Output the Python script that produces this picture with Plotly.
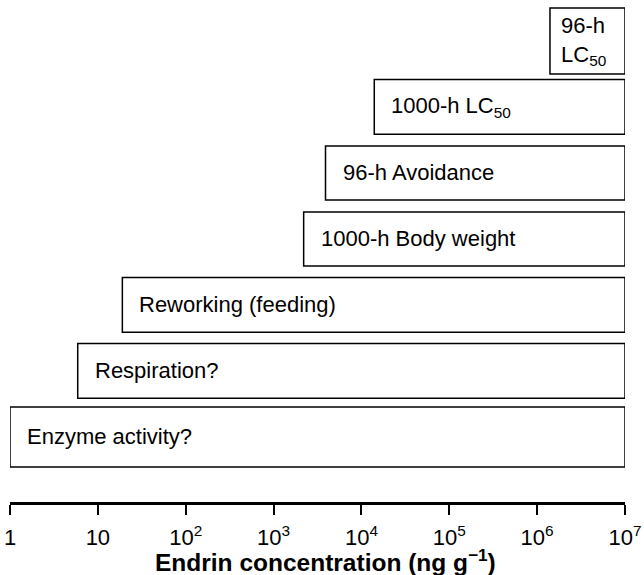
import plotly.graph_objects as go
import math

labels = ["Enzyme activity?", "Respiration?", "Reworking (feeding)", "1000-h Body weight",
          "96-h Avoidance", "1000-h LC<sub>50</sub>", "96-h<br>LC<sub>50</sub>"]
starts = [1, 5.9, 19, 2.2e3, 3.9e3, 1.4e4, 1.4e6]
ends = [1e7, 1e7, 1e7, 1e7, 1e7, 1e7, 1e7]
tick_vals = [1, 10, 1e2, 1e3, 1e4, 1e5, 1e6, 1e7]
tick_text = ["1", "10", "10<sup>2</sup>", "10<sup>3</sup>", "10<sup>4</sup>",
             "10<sup>5</sup>", "10<sup>6</sup>", "10<sup>7</sup>"]
x_title = "<b>Endrin concentration (ng g<sup>−1</sup>)</b>"

ypos = list(range(len(labels)))
widths = [0.91, 0.83, 0.83, 0.82, 0.82, 0.83, 1.0]
FONT = "Liberation Sans, Arial, Helvetica, sans-serif"

fig = go.Figure()
fig.add_trace(go.Bar(
    y=ypos,
    x=[e - s for s, e in zip(starts, ends)],
    base=starts,
    orientation="h",
    width=widths,
    marker=dict(color="white", line=dict(color="black", width=1.5)),
    hoverinfo="skip",
    showlegend=False,
))

for i, (lab, s) in enumerate(zip(labels, starts)):
    fig.add_annotation(
        x=math.log10(s), y=ypos[i], xref="x", yref="y",
        text=lab, showarrow=False, xanchor="left", yanchor="middle",
        align="left",
        xshift=15 if i < 6 else 9,
        font=dict(family=FONT, size=22, color="black"),
    )

# x-axis title placed as annotation for precise positioning
fig.add_annotation(
    x=0.5, y=0, xref="paper", yref="paper",
    text=x_title, showarrow=False, xanchor="center", yanchor="middle",
    xshift=8, yshift=-58,
    font=dict(family=FONT, size=24.5, color="black"),
)

fig.update_layout(
    width=644, height=575,
    margin=dict(l=10, r=19, t=0, b=73),
    paper_bgcolor="white", plot_bgcolor="white",
    font=dict(family=FONT, color="black"),
    xaxis=dict(
        type="log", range=[0, 7],
        tickvals=tick_vals, ticktext=tick_text,
        ticks="outside", ticklen=10, tickwidth=2, tickcolor="black",
        ticklabelstandoff=4,
        showline=True, linecolor="black", linewidth=2.5,
        showgrid=False, zeroline=False,
        tickfont=dict(family=FONT, size=22, color="black"),
        automargin=False,
    ),
    yaxis=dict(
        range=[-0.985, 6.62], showticklabels=False, showgrid=False,
        zeroline=False, showline=False, ticks="",
    ),
)

fig.write_html("out.html", config={"displayModeBar": False},
               post_script="document.body.style.margin='0px';document.body.style.overflow='hidden';")
